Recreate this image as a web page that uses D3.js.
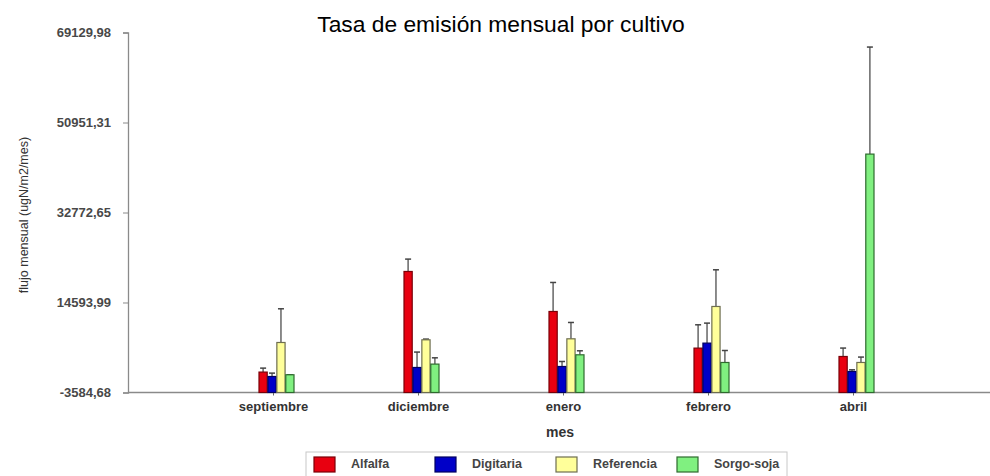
<!DOCTYPE html>
<html><head><meta charset="utf-8">
<script src="https://cdn.jsdelivr.net/npm/d3@7"></script>
<style>
html,body{margin:0;padding:0;background:#fff;}
svg{display:block;font-family:"Liberation Sans",Arial,sans-serif;}
</style></head>
<body>
<svg id="chart" width="990" height="476"></svg>
<script>
const months = ["septiembre","diciembre","enero","febrero","abril"];
const series = ["Alfalfa","Digitaria","Referencia","Sorgo-soja"];
const alfalfa      = [540, 20860, 12780, 5380, 3690];
const alfalfaErr   = [800, 2500, 5860, 4710, 1700];
const digitaria    = [-350, 1470, 1670, 6390, 660];
const digitariaErr = [680, 3110, 1010, 4040, 340];
const referencia   = [6515, 7060, 7260, 13790, 2480];
const referenciaErr= [6810, 140, 3300, 7410, 1090];
const sorgo        = [0, 2150, 4030, 2480, 44570];
const sorgoErr     = [0, 1270, 810, 2420, 21620];
const yTickValues  = [-3584.68, 14593.99, 32772.65, 50951.31, 69129.98];
const yTickLabels  = ["-3584,68","14593,99","32772,65","50951,31","69129,98"];

const values = [alfalfa, digitaria, referencia, sorgo];
const errors = [alfalfaErr, digitariaErr, referenciaErr, sorgoErr];
const fills   = ["#e80010","#0000c8","#ffff9a","#80f080"];
const strokes = ["#7a0008","#000060","#6e6e50","#2e6a2e"];

const svg = d3.select("#chart");
const x = d3.scalePoint().domain(months).range([128, 998]).padding(1);
const xSub = d3.scaleBand().domain(series).range([-14, 21]).paddingInner(0.08);
const y = d3.scaleLinear().domain([yTickValues[0], yTickValues[4]]).range([392.5, 32.5]);

// title
svg.append("text").attr("x", 501).attr("y", 32).attr("text-anchor","middle")
  .attr("font-size", 22.8).attr("fill","#000").text("Tasa de emisión mensual por cultivo");

// y axis
const yAxis = svg.append("g").attr("transform","translate(128,0)")
  .call(d3.axisLeft(y).tickValues(yTickValues).tickFormat((d,i)=>yTickLabels[i]).tickSize(5).tickPadding(12));
yAxis.select(".domain").attr("stroke","#8a8a8a").attr("stroke-width",1.3);
yAxis.selectAll(".tick line").attr("stroke","#8a8a8a");
yAxis.selectAll(".tick text").attr("font-size",13).attr("font-weight","bold").attr("fill","#484848")
  .attr("font-family","'Liberation Sans',Arial,sans-serif");

// x axis
const xAxis = svg.append("g").attr("transform","translate(0,392.5)")
  .call(d3.axisBottom(x).tickSize(3).tickPadding(6).tickSizeOuter(0));
xAxis.select(".domain").remove();
xAxis.append("line").attr("x1",128).attr("x2",990).attr("y1",0).attr("y2",0)
  .attr("stroke","#8a8a8a").attr("stroke-width",1.3);
xAxis.selectAll(".tick line").attr("stroke","#666");
xAxis.selectAll(".tick text").attr("font-size",13).attr("font-weight","bold").attr("fill","#333")
  .attr("font-family","'Liberation Sans',Arial,sans-serif");

// axis titles
svg.append("text").attr("transform","translate(24,215) rotate(-90)").attr("text-anchor","middle")
  .attr("dominant-baseline","central").attr("font-size",12.5).attr("fill","#333")
  .text("flujo mensual (ugN/m2/mes)");
svg.append("text").attr("x",560).attr("y",437).attr("text-anchor","middle")
  .attr("font-size",14).attr("font-weight","bold").attr("fill","#333").text("mes");

// bars + error bars
series.forEach((s, si) => {
  const g = svg.append("g");
  months.forEach((m, mi) => {
    const v = values[si][mi], e = errors[si][mi];
    const x0 = x(m) + xSub(s), w = xSub.bandwidth();
    const cx = x0 + w/2;
    g.append("line").attr("x1",cx).attr("x2",cx).attr("y1",y(v)).attr("y2",y(v+e))
      .attr("stroke","#666").attr("stroke-width",1.5);
    g.append("line").attr("x1",cx-3).attr("x2",cx+3).attr("y1",y(v+e)).attr("y2",y(v+e))
      .attr("stroke","#444").attr("stroke-width",1.5);
    g.append("rect").attr("x",x0).attr("width",w)
      .attr("y",y(v)).attr("height",y(yTickValues[0]) - y(v))
      .attr("fill",fills[si]).attr("stroke",strokes[si]).attr("stroke-width",1.2);
  });
});

// legend
const lg = svg.append("g");
lg.append("rect").attr("x",306).attr("y",452).attr("width",481).attr("height",30)
  .attr("fill","#fff").attr("stroke","#c8c8c8");
const legX = d3.scalePoint().domain(series).range([314, 677]);
series.forEach((s, si) => {
  lg.append("rect").attr("x",legX(s)).attr("y",457).attr("width",21).attr("height",15)
    .attr("fill",fills[si]).attr("stroke",strokes[si]).attr("stroke-width",1.2);
  lg.append("text").attr("x",legX(s)+37).attr("y",468).attr("font-size",12.5)
    .attr("font-weight","bold").attr("fill","#444").text(s);
});
</script>
</body></html>
